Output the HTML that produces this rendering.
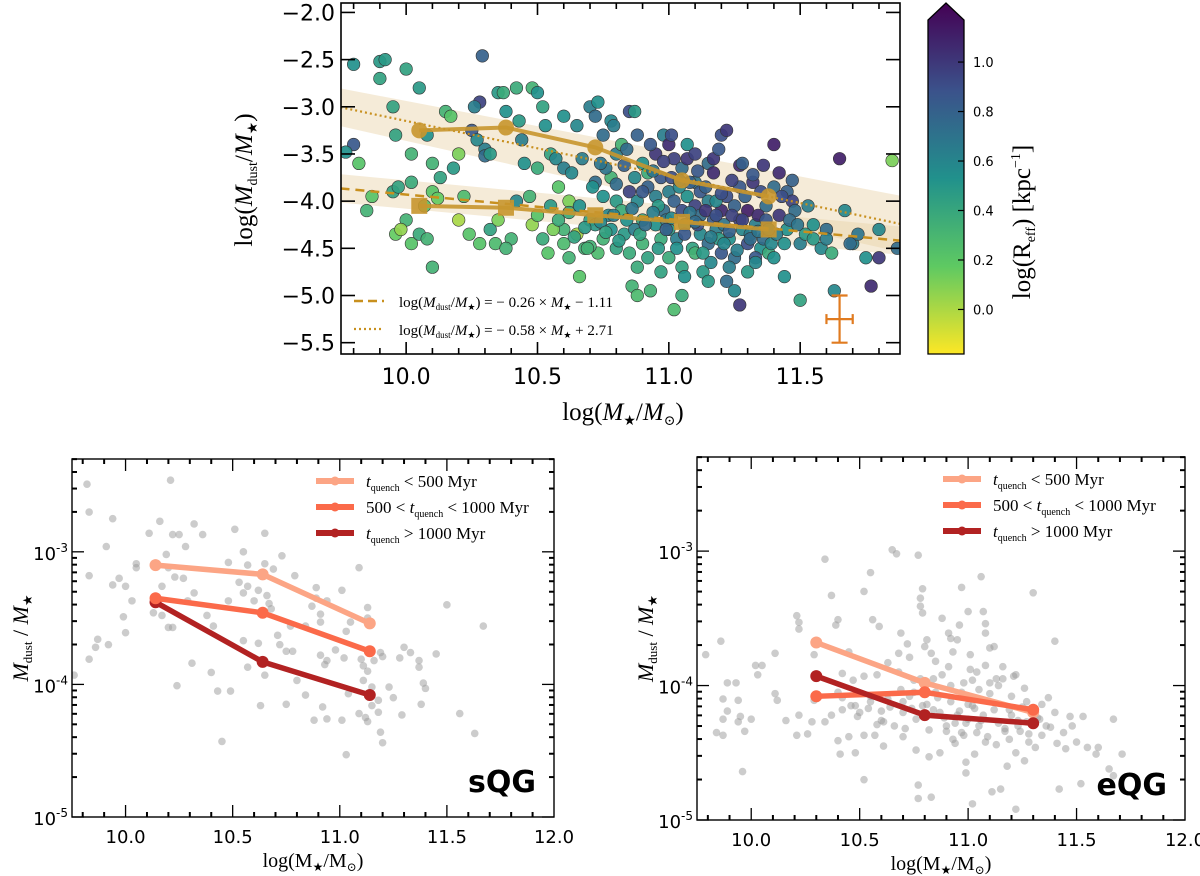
<!DOCTYPE html>
<html><head><meta charset="utf-8">
<style>
html,body{margin:0;padding:0;background:#fff;}
svg{display:block;}
.tk{font-family:"DejaVu Sans","Liberation Sans",sans-serif;fill:#000;}
.sr{font-family:"Liberation Serif","DejaVu Serif",serif;fill:#000;}
</style></head>
<body>
<svg id="fig" xmlns="http://www.w3.org/2000/svg" width="1200" height="876" viewBox="0 0 1200 876">
<defs>
<linearGradient id="vir" x1="0" y1="1" x2="0" y2="0">
<stop offset="0" stop-color="#fde725"/><stop offset="0.25" stop-color="#5ec962"/><stop offset="0.5" stop-color="#21918c"/><stop offset="0.75" stop-color="#3b528b"/><stop offset="1" stop-color="#440154"/>
</linearGradient>
</defs>
</svg>
<script>
// ===== Top panel data =====
const topX=[9.8,9.9,9.92,9.9,10.0,10.05,9.95,9.8,9.77,9.82,9.96,10.08,10.15,10.17,10.1,10.13,10.2,10.25,10.28,10.26,10.3,10.3,10.32,10.35,10.37,10.38,10.42,10.43,10.48,10.5,10.52,10.45,10.5,10.55,10.58,10.57,10.6,10.6,10.55,10.6,10.62,10.29,
9.87,9.85,9.95,10.02,9.97,10.0,9.96,9.98,10.02,10.05,10.08,10.1,10.12,10.1,10.2,10.24,10.28,10.32,10.34,10.35,10.4,10.38,10.42,10.48,10.5,10.52,10.54,10.56,10.6,10.62,10.65,10.66,10.68,10.7,
10.7,10.72,10.73,10.75,10.78,10.8,10.82,10.85,10.87,10.88,10.9,10.92,10.95,10.98,10.72,10.75,10.78,10.8,10.82,10.85,10.88,10.9,10.72,10.75,10.78,10.8,10.83,10.85,10.87,10.9,10.92,10.95,10.97,10.98,10.86,10.88,10.93,10.73,10.77,10.92,10.95,10.97,
11.0,11.02,11.05,11.07,11.1,11.12,11.15,11.17,11.2,11.22,11.0,11.02,11.05,11.07,11.1,11.12,11.15,11.17,11.2,11.22,11.25,11.27,11.3,11.32,11.35,11.37,11.0,11.03,11.06,11.09,11.12,11.15,11.18,11.2,11.23,11.25,11.28,11.3,11.33,11.35,11.0,11.05,11.1,11.13,11.16,11.22,11.25,11.27,11.3,11.05,11.02,11.4,11.42,11.45,11.47,11.42,11.45,11.48,11.5,11.52,11.38,11.4,11.5,11.55,11.58,11.6,11.63,11.65,11.7,11.72,11.75,11.77,11.8,11.8,11.85,11.87,11.62,
11.08,11.11,11.14,11.18,11.21,11.24,11.27,11.29,11.31,11.34,11.36,11.33,11.19,11.04,10.99,10.96,
10.62,10.64,10.66,10.68,10.7,10.74,10.76,10.79,10.81,10.84,10.86,10.89,10.91,10.94,10.96,10.99,11.01,11.03,11.06,11.08,11.1,11.13,11.16,11.18,11.21,11.23,11.26,11.28,11.31,11.34,11.37,11.39,11.41,11.44,11.46,
10.63,10.67,10.71,10.76,10.8,10.83,10.87,10.9,10.94,10.98,11.01,11.04,11.07,11.11,11.14,11.17,11.2,11.24,11.27,11.32,11.36,11.4,11.43,11.47,11.53,
10.02,10.07,10.18,10.22,10.27,10.44,10.47,10.53,10.58,10.65,10.69,10.74,10.79,10.84,10.88,10.93,10.97,11.01,11.06,11.1,11.15,11.19,11.23,11.28,11.33,11.38,11.44,11.49,11.55,11.6,11.67,11.69];
const topY=[-2.55,-2.52,-2.5,-2.7,-2.6,-2.8,-3.0,-3.4,-3.48,-3.6,-3.3,-3.3,-3.05,-3.1,-3.6,-3.75,-3.5,-3.25,-2.95,-3.0,-3.45,-3.52,-3.5,-2.85,-2.85,-3.05,-2.8,-3.15,-2.8,-2.85,-3.0,-3.6,-3.65,-3.5,-3.85,-3.55,-3.1,-3.65,-4.05,-4.3,-4.0,-2.46,
-3.95,-4.1,-3.9,-3.8,-3.85,-4.2,-4.35,-4.3,-4.45,-4.35,-4.4,-3.9,-3.97,-4.7,-4.2,-4.35,-4.45,-4.3,-4.45,-4.2,-4.4,-4.5,-4.0,-4.25,-4.15,-4.4,-4.55,-4.3,-4.45,-4.6,-4.35,-4.8,-4.5,-4.2,
-3.0,-3.1,-2.95,-3.3,-3.15,-3.5,-3.4,-3.05,-3.05,-3.3,-3.6,-3.7,-3.5,-3.3,-3.8,-3.95,-3.75,-4.0,-4.1,-3.9,-4.0,-4.2,-4.25,-4.4,-4.3,-4.5,-4.35,-4.55,-4.3,-4.45,-4.6,-4.25,-4.4,-4.1,-4.9,-5.0,-4.95,-4.55,-4.15,-3.85,-3.95,-3.75,
-3.4,-3.55,-3.65,-3.4,-3.8,-3.9,-3.6,-3.55,-3.3,-3.25,-3.9,-4.0,-4.1,-3.95,-4.05,-4.15,-4.0,-4.2,-4.1,-3.95,-4.05,-4.2,-4.1,-3.8,-3.9,-4.05,-4.3,-4.4,-4.25,-4.5,-4.35,-4.45,-4.3,-4.55,-4.4,-4.6,-4.3,-4.45,-4.25,-4.5,-4.6,-4.7,-4.55,-4.75,-4.65,-4.85,-4.95,-5.1,-4.75,-5.0,-5.15,-3.4,-3.7,-3.9,-4.0,-4.15,-4.3,-4.1,-4.45,-4.35,-4.55,-4.6,-5.05,-4.25,-4.5,-4.3,-4.95,-3.55,-4.45,-4.35,-4.6,-4.9,-4.6,-4.3,-3.57,-4.5,-4.55,
-3.8,-4.25,-4.1,-4.0,-4.25,-4.15,-3.85,-3.95,-4.35,-4.15,-4.4,-4.6,-4.4,-3.85,-4.2,-4.05,
-4.12,-4.38,-4.05,-4.28,-4.48,-4.22,-4.33,-4.15,-4.42,-4.2,-4.08,-4.35,-4.25,-4.12,-4.5,-4.3,-4.18,-4.5,-4.35,-4.12,-4.22,-4.55,-4.38,-4.15,-4.45,-4.32,-4.52,-4.2,-4.4,-4.32,-4.2,-4.45,-4.35,-4.45,-4.2,
-3.7,-3.55,-3.85,-3.65,-3.82,-3.62,-3.75,-3.9,-3.68,-3.58,-3.75,-3.78,-3.55,-3.68,-3.85,-3.7,-3.92,-3.78,-3.62,-3.72,-3.62,-3.85,-3.95,-3.78,-4.05,
-3.5,-4.05,-3.65,-3.95,-3.35,-3.35,-3.95,-3.2,-4.2,-3.2,-4.5,-3.6,-3.2,-3.45,-4.7,-3.4,-4.75,-3.3,-4.8,-3.5,-4.85,-3.45,-4.7,-3.6,-4.65,-4.3,-4.8,-4.25,-4.4,-4.4,-4.1,-4.45];
const topR=[0.5,0.45,0.45,0.4,0.4,0.45,0.4,0.8,0.5,0.2,0.4,0.5,0.3,0.2,0.3,0.4,0.1,0.8,0.9,0.6,0.6,0.7,0.45,0.45,0.35,0.5,0.35,0.45,0.3,0.5,0.4,0.5,0.35,0.4,0.2,0.55,0.5,0.6,0.45,0.3,0.1,0.75,
0.2,0.3,0.4,0.35,0.4,0.3,0.15,0.05,0.2,0.35,0.3,0.2,0.15,0.3,0.0,0.2,0.2,0.4,0.25,0.1,0.3,0.3,0.55,0.05,0.2,0.35,0.2,0.1,0.25,0.3,0.0,0.2,0.3,0.4,
0.6,0.7,0.5,0.7,0.55,0.6,0.3,0.85,0.45,0.75,0.5,0.35,0.95,0.6,0.7,0.5,0.3,0.45,0.35,0.9,0.55,0.4,0.45,0.3,0.5,0.4,0.45,0.35,0.6,0.3,0.4,0.5,0.35,0.7,0.3,0.25,0.3,0.25,0.55,0.75,0.6,0.8,
1.0,0.9,0.7,0.5,0.65,0.8,0.7,0.95,0.85,0.95,0.6,0.75,0.85,0.5,0.9,0.7,0.6,0.8,1.0,0.85,0.75,0.9,1.05,0.95,0.85,0.7,0.45,0.6,0.5,0.4,0.55,0.7,0.6,0.8,0.5,0.7,0.55,0.85,0.6,0.5,0.35,0.4,0.3,0.45,0.55,0.7,0.55,0.95,0.45,0.35,0.25,1.05,1.0,0.75,0.9,0.95,0.5,0.7,0.6,0.45,0.35,0.5,0.4,0.5,0.55,0.7,0.55,1.05,0.6,0.65,0.5,1.0,0.95,0.55,0.1,0.7,0.35,
0.75,0.85,0.95,0.55,0.65,0.9,0.8,0.75,0.6,1.0,0.7,0.8,0.45,0.55,0.65,0.45,
0.35,0.4,0.5,0.45,0.3,0.55,0.4,0.6,0.45,0.5,0.65,0.4,0.7,0.6,0.45,0.75,0.55,0.5,0.8,0.65,0.7,0.45,0.6,0.85,0.55,0.75,0.6,0.9,0.7,0.65,0.8,0.55,0.6,0.5,0.7,
0.55,0.6,0.5,0.65,0.7,0.75,0.55,0.8,0.65,0.9,0.85,0.7,0.95,0.8,0.75,1.0,0.85,0.9,1.0,0.8,0.95,0.7,0.85,0.75,0.6,
0.3,0.2,0.45,0.25,0.55,0.6,0.3,0.5,0.35,0.55,0.3,0.65,0.6,0.7,0.35,0.8,0.4,0.85,0.5,0.9,0.45,0.8,0.6,0.75,0.55,0.6,0.5,0.65,0.45,0.6,0.55,0.7];
const binX=[10.05,10.38,10.72,11.05,11.38];
const binCircleY=[-3.25,-3.22,-3.43,-3.78,-3.95];
const binSquareY=[-4.05,-4.07,-4.15,-4.22,-4.3];
const fitDashed=[-0.26,-1.33];  // slope, intercept as drawn
const fitDotted=[-0.58,2.65];
const errPoint=[11.65,-5.25,0.05,0.25];
const topXTicks=[10.0,10.5,11.0,11.5];
const topYTicks=[-2.0,-2.5,-3.0,-3.5,-4.0,-4.5,-5.0,-5.5];
const cbTicks=[0.0,0.2,0.4,0.6,0.8,1.0];

// ===== Bottom-left (sQG) data =====
const sqgX=[9.82,9.83,9.94,9.91,9.83,9.83,9.76,9.86,9.87,9.92,9.94,9.97,10.0,9.99,10.0,10.03,10.05,10.05,10.11,10.16,10.21,10.22,10.25,10.28,10.32,10.36,10.19,10.2,10.17,10.23,10.27,10.13,10.17,10.2,10.22,10.29,10.32,10.38,10.41,10.31,10.24,10.4,10.43,10.49,10.45,10.48,10.48,10.51,10.55,10.53,10.55,10.57,10.57,10.6,10.62,10.55,10.62,10.57,10.63,10.65,10.65,10.66,10.67,10.68,10.69,10.73,10.71,10.72,10.75,10.65,10.75,10.79,10.77,10.78,10.8,10.84,10.84,10.87,10.89,10.89,10.91,10.91,10.91,10.93,10.94,10.94,10.92,10.88,10.94,10.98,11.01,11.01,11.02,11.03,11.03,11.04,11.05,11.09,11.09,11.1,11.11,11.11,11.12,11.13,11.13,11.13,11.13,11.15,11.15,11.16,11.18,11.18,11.19,11.19,11.2,11.2,11.23,11.25,11.28,11.29,11.3,11.33,11.37,11.37,11.39,11.4,11.38,11.45,11.5,11.56,11.63,11.67];
const sqgLogY=[-2.49,-2.70,-2.75,-2.96,-3.18,-3.81,-3.93,-3.72,-3.66,-3.70,-3.25,-3.2,-3.26,-3.49,-3.61,-3.37,-3.12,-3.09,-2.86,-2.77,-2.46,-2.87,-2.87,-2.96,-2.79,-2.87,-3.02,-3.12,-3.26,-3.19,-3.2,-3.46,-3.48,-3.57,-3.57,-3.37,-3.31,-3.48,-3.56,-3.84,-4.01,-3.91,-4.05,-4.05,-4.43,-3.37,-3.08,-2.83,-3.0,-3.23,-3.31,-3.26,-3.1,-3.37,-3.29,-3.67,-3.69,-3.87,-4.16,-2.86,-3.09,-3.33,-3.39,-3.43,-3.13,-3.03,-3.63,-3.7,-3.75,-3.93,-4.15,-3.18,-3.56,-3.75,-3.97,-3.56,-4.08,-3.41,-3.27,-3.35,-3.47,-3.53,-3.78,-3.85,-3.82,-3.37,-4.17,-4.27,-4.26,-3.74,-4.27,-3.29,-3.8,-4.53,-3.6,-4.07,-3.53,-3.12,-4.22,-3.81,-3.86,-3.97,-4.25,-4.28,-3.5,-3.42,-3.9,-4.02,-4.16,-3.82,-4.12,-4.21,-4.36,-3.76,-3.79,-4.44,-4.02,-4.1,-3.8,-4.23,-3.72,-3.76,-3.82,-3.87,-3.99,-4.03,-4.15,-3.77,-3.4,-4.22,-4.37,-3.56];
const binBX=[10.14,10.64,11.14];
const sqgFast=[-3.10,-3.17,-3.54];
const sqgMid=[-3.35,-3.46,-3.75];
const sqgSlow=[-3.38,-3.83,-4.08];

// ===== Bottom-right (eQG) data =====
const eqgX=[9.79,9.84,9.86,9.87,9.87,9.87,9.89,9.89,9.93,9.94,9.94,9.95,9.96,9.97,10.0,10.02,10.03,10.05,10.11,10.11,10.12,10.16,10.21,10.22,10.22,10.21,10.22,10.26,10.28,10.29,10.29,10.34,10.34,10.37,10.37,10.39,10.4,10.4,10.4,10.41,10.42,10.42,10.42,10.45,10.45,10.46,10.47,10.48,10.49,10.52,10.52,10.52,10.52,10.54,10.55,10.55,10.56,10.57,10.58,10.59,10.59,10.6,10.61,10.61,10.63,10.64,10.65,10.67,10.68,10.69,10.69,10.7,10.7,10.71,10.72,10.73,10.74,10.75,10.75,10.76,10.77,10.77,10.77,10.78,10.78,10.79,10.79,10.8,10.81,10.81,10.82,10.83,10.83,10.84,10.84,10.85,10.86,10.87,10.88,10.89,10.9,10.91,10.91,10.92,10.92,10.93,10.94,10.94,10.95,10.96,10.96,10.97,10.97,10.98,10.99,10.99,10.99,11.0,11.0,11.01,11.01,11.02,11.02,11.03,11.03,11.04,11.05,11.06,11.06,11.07,11.08,11.08,11.08,11.08,11.1,11.1,11.1,11.11,11.12,11.13,11.14,11.15,11.16,11.16,11.17,11.18,11.19,11.19,11.2,11.21,11.22,11.22,11.23,11.24,11.26,11.26,11.27,11.27,11.28,11.3,11.31,11.32,11.34,11.34,11.37,11.38,11.4,11.4,11.41,11.42,11.44,11.45,11.47,11.48,11.5,11.52,11.53,11.55,11.6,11.59,11.65,11.67,11.67,11.71,
10.5,10.55,10.6,10.63,10.66,10.7,10.73,10.76,10.79,10.82,10.85,10.87,10.9,10.92,10.95,10.97,11.0,11.02,11.05,11.07,11.09,11.12,11.14,11.17,11.2,11.23,11.25,11.28,11.33,11.36,10.58,10.68,10.78,10.88,10.98,11.04,11.13,11.22,10.48,10.93];
const eqgLogY=[-3.77,-4.35,-3.67,-4.1,-4.37,-4.25,-4.19,-3.98,-3.98,-4.11,-4.27,-4.23,-4.64,-4.34,-4.25,-3.85,-3.92,-3.85,-3.76,-4.06,-4.11,-4.26,-3.48,-3.53,-3.58,-4.37,-4.22,-4.36,-4.27,-3.77,-4.11,-4.27,-3.06,-4.22,-3.33,-3.55,-3.51,-4.05,-4.41,-4.51,-4.18,-3.91,-4.09,-3.75,-4.38,-4.15,-3.96,-4.5,-4.23,-3.3,-3.93,-4.37,-4.7,-4.17,-4.08,-3.16,-3.51,-4.37,-4.29,-3.56,-4.08,-4.19,-4.45,-4.27,-3.83,-4.16,-2.99,-3.02,-3.76,-3.61,-4.03,-4.12,-4.38,-4.32,-3.69,-3.79,-4.17,-3.96,-4.05,-4.48,-3.03,-4.84,-4.74,-3.35,-3.41,-3.46,-3.28,-3.71,-4.14,-3.66,-4.53,-4.83,-3.76,-4.18,-3.95,-3.82,-4.09,-4.5,-3.5,-4.24,-4.34,-3.86,-3.61,-3.65,-4.0,-3.75,-4.43,-4.28,-3.66,-3.55,-4.19,-4.05,-3.27,-4.37,-4.57,-4.28,-4.65,-3.45,-4.14,-3.77,-3.88,-3.96,-4.88,-4.51,-4.17,-4.35,-4.03,-3.19,-4.26,-3.45,-3.54,-3.61,-3.85,-4.42,-3.98,-3.72,-4.06,-4.79,-3.71,-4.44,-4.0,-4.77,-3.86,-3.95,-4.34,-4.6,-4.18,-4.4,-4.08,-3.93,-4.92,-4.5,-4.26,-4.34,-4.02,-4.56,-4.12,-4.27,-4.42,-3.31,-4.46,-4.24,-4.14,-4.37,-4.09,-4.31,-3.67,-4.2,-4.43,-4.77,-4.35,-4.47,-4.23,-4.3,-4.42,-4.73,-4.23,-4.46,-4.46,-4.51,-4.62,-4.25,-4.67,-4.51,
-4.2,-4.12,-4.26,-4.1,-4.3,-4.2,-4.08,-4.25,-4.15,-4.33,-4.05,-4.2,-4.3,-4.12,-4.22,-4.35,-4.25,-4.15,-4.3,-4.22,-4.38,-4.18,-4.28,-4.32,-4.22,-4.3,-4.16,-4.36,-4.25,-4.3,-3.92,-3.9,-3.95,-3.92,-3.98,-3.9,-3.95,-3.92,-4.15,-4.4];
const binEX=[10.3,10.8,11.3];
const eqgFast=[-3.68,-3.98,-4.2];
const eqgMid=[-4.08,-4.05,-4.18];
const eqgSlow=[-3.93,-4.22,-4.28];

const bXTicks=[10.0,10.5,11.0,11.5,12.0];
const bYDecades=[-5,-4,-3];

// ===== helpers =====
const NS='http://www.w3.org/2000/svg';
const svg=document.getElementById('fig');
function mk(tag,attrs,parent){const e=document.createElementNS(NS,tag);for(const k in attrs)e.setAttribute(k,attrs[k]);(parent||svg).appendChild(e);return e;}
function lin(d0,d1,p0,p1){return v=>p0+(v-d0)*(p1-p0)/(d1-d0);}
function viridis(t){const s=[[0x44,0x01,0x54],[0x3b,0x52,0x8b],[0x21,0x91,0x8c],[0x5e,0xc9,0x62],[0xfd,0xe7,0x25]];
 t=Math.max(0,Math.min(1,t))*4;const i=Math.min(3,Math.floor(t));const f=t-i;const c=s[i].map((v,k)=>Math.round(v+(s[i+1][k]-v)*f));return 'rgb('+c.join(',')+')';}

// ===== Top panel =====
const T={l:341,r:900,t:3,b:354};
const tx=lin(9.752,11.88,T.l,T.r);
const ty=lin(-1.9,-5.62,T.t,T.b);
const gTop=mk('g',{});


const clipT=mk('clipPath',{id:'clipT'});mk('rect',{x:T.l,y:T.t,width:T.r-T.l,height:T.b-T.t},clipT);
const gTopPlot=mk('g',{'clip-path':'url(#clipT)'},gTop);
function band(fit,w0,w1,name){
 const xs=[9.75,11.9];
 const up=xs.map((x,i)=>[tx(x),ty(fit[0]*x+fit[1]+(i?w1:w0))]);
 const dn=xs.map((x,i)=>[tx(x),ty(fit[0]*x+fit[1]-(i?w1:w0))]).reverse();
 const p=mk('polygon',{points:up.concat(dn).map(q=>q.join(',')).join(' '),fill:'#e8d2a8','fill-opacity':'0.45'},gTopPlot);
 
 
}
band(fitDotted,0.2,0.3,'dotted-fit-band');
band(fitDashed,0.15,0.15,'dashed-fit-band');
for(let i=0;i<topX.length;i++){
 const c=mk('circle',{cx:tx(topX[i]),cy:ty(topY[i]),r:6.3,fill:viridis(1-(topR[i]+0.18)/1.35),stroke:'#333','stroke-width':0.6,'fill-opacity':0.92},gTopPlot);
 
 
}
function fitLine(fit,dash,name,w){
 const l=mk('line',{x1:tx(9.75),y1:ty(fit[0]*9.75+fit[1]),x2:tx(11.9),y2:ty(fit[0]*11.9+fit[1]),stroke:'#c8901e','stroke-width':w,'stroke-dasharray':dash},gTopPlot);
 
 
}
fitLine(fitDashed,'9,6','dashed-fit-line',2.5);
fitLine(fitDotted,'2,3','dotted-fit-line',2.2);
const gold='#c8962e';
function binned(ys,marker,name){
 const pl=mk('polyline',{points:binX.map((x,i)=>tx(x)+','+ty(ys[i])).join(' '),fill:'none',stroke:gold,'stroke-width':4,'stroke-opacity':0.9},gTopPlot);
 
 
 binX.forEach((x,i)=>{
  let m;
  if(marker==='c') m=mk('circle',{cx:tx(x),cy:ty(ys[i]),r:8,fill:gold,'fill-opacity':0.9},gTopPlot);
  else m=mk('rect',{x:tx(x)-8,y:ty(ys[i])-8,width:16,height:16,fill:gold,'fill-opacity':0.9},gTopPlot);
  
  
 });
}
binned(binCircleY,'c','binned-median-high');
binned(binSquareY,'s','binned-median-low');
// error bar
const eg=mk('g',{stroke:'#e07b20','stroke-width':2.2},gTop);


const [ex,ey,exe,eye]=errPoint;
mk('line',{x1:tx(ex-exe),y1:ty(ey),x2:tx(ex+exe),y2:ty(ey)},eg);
mk('line',{x1:tx(ex),y1:ty(ey-eye),x2:tx(ex),y2:ty(ey+eye)},eg);
mk('line',{x1:tx(ex)-8,y1:ty(ey-eye),x2:tx(ex)+8,y2:ty(ey-eye)},eg);
mk('line',{x1:tx(ex)-8,y1:ty(ey+eye),x2:tx(ex)+8,y2:ty(ey+eye)},eg);
mk('line',{x1:tx(ex-exe),y1:ty(ey)-5,x2:tx(ex-exe),y2:ty(ey)+5},eg);
mk('line',{x1:tx(ex+exe),y1:ty(ey)-5,x2:tx(ex+exe),y2:ty(ey)+5},eg);
// axes frame + ticks
const fr=mk('rect',{x:T.l,y:T.t,width:T.r-T.l,height:T.b-T.t,fill:'none',stroke:'#000','stroke-width':1.6},gTop);


for(let k=98;k<=118;k++){const v=k/10;const x=tx(v);const major=(k%5===0);const L=major?12:6;
 mk('line',{x1:x,y1:T.b,x2:x,y2:T.b-L,stroke:'#000','stroke-width':1.6},gTop);
 mk('line',{x1:x,y1:T.t,x2:x,y2:T.t+L,stroke:'#000','stroke-width':1.6},gTop);}
topXTicks.forEach(v=>{const t=mk('text',{x:tx(v),y:384,'text-anchor':'middle','font-size':22,class:'tk'},gTop);t.textContent=v.toFixed(1);
 
 });
topYTicks.forEach(v=>{const y=ty(v);
 mk('line',{x1:T.l,y1:y,x2:T.l+14,y2:y,stroke:'#000','stroke-width':1.6},gTop);
 mk('line',{x1:T.r,y1:y,x2:T.r-14,y2:y,stroke:'#000','stroke-width':1.6},gTop);
 const t=mk('text',{x:T.l-6,y:y+8,'text-anchor':'end','font-size':22,class:'tk'},gTop);t.textContent=(v).toFixed(1).replace('-','\u2212');
 
 });
// labels
let t=mk('text',{x:623,y:420,'text-anchor':'middle','font-size':25,class:'sr'},gTop);
t.innerHTML='log(<tspan font-style="italic">M</tspan><tspan font-size="14" dy="5">★</tspan><tspan dy="-5">/</tspan><tspan font-style="italic">M</tspan><tspan font-size="14" dy="5">⊙</tspan><tspan dy="-5">)</tspan>';


t=mk('text',{x:0,y:0,'text-anchor':'middle','font-size':25,class:'sr',transform:'translate(252,180) rotate(-90)'},gTop);
t.innerHTML='log(<tspan font-style="italic">M</tspan><tspan font-size="14" dy="5">dust</tspan><tspan dy="-5">/</tspan><tspan font-style="italic">M</tspan><tspan font-size="14" dy="5">★</tspan><tspan dy="-5">)</tspan>';


// legend
const lg=mk('g',{},gTop);


mk('line',{x1:354,y1:301,x2:384,y2:301,stroke:'#c8901e','stroke-width':2.5,'stroke-dasharray':'9,5'},lg);
mk('line',{x1:354,y1:329,x2:384,y2:329,stroke:'#c8901e','stroke-width':2.2,'stroke-dasharray':'2,3'},lg);
t=mk('text',{x:399,y:307,'font-size':15,class:'sr'},lg);
t.innerHTML='log(<tspan font-style="italic">M</tspan><tspan font-size="9" dy="3">dust</tspan><tspan dy="-3">/</tspan><tspan font-style="italic">M</tspan><tspan font-size="9" dy="3">★</tspan><tspan dy="-3">) = − 0.26 × </tspan><tspan font-style="italic">M</tspan><tspan font-size="9" dy="3">★</tspan><tspan dy="-3"> − 1.11</tspan>';


t=mk('text',{x:399,y:335,'font-size':15,class:'sr'},lg);
t.innerHTML='log(<tspan font-style="italic">M</tspan><tspan font-size="9" dy="3">dust</tspan><tspan dy="-3">/</tspan><tspan font-style="italic">M</tspan><tspan font-size="9" dy="3">★</tspan><tspan dy="-3">) = − 0.58 × </tspan><tspan font-style="italic">M</tspan><tspan font-size="9" dy="3">★</tspan><tspan dy="-3"> + 2.71</tspan>';


// colorbar
const cb=mk('g',{},svg);


const cy=lin(-0.18,1.17,354,20);
mk('path',{d:'M928,354 L928,20 L946,3 L964,20 L964,354 Z',fill:'url(#vir)',stroke:'#000','stroke-width':1.3},cb);
cbTicks.forEach(v=>{const y=cy(v);mk('line',{x1:964,y1:y,x2:958,y2:y,stroke:'#000','stroke-width':1.2},cb);
 const tt=mk('text',{x:973,y:y+5,'font-size':13,class:'tk'},cb);tt.textContent=v.toFixed(1);
 
 });
t=mk('text',{x:0,y:0,'text-anchor':'middle','font-size':25,class:'sr',transform:'translate(1030,222) rotate(-90)'},cb);
t.innerHTML='log(R<tspan font-size="14" dy="5">eff</tspan><tspan dy="-5">) [kpc</tspan><tspan font-size="14" dy="-10">−1</tspan><tspan dy="10">]</tspan>';



// ===== bottom panels =====
function bottomPanel(P,xsArr,ysArr,bx,fast,mid,slow,label,name,lgx){
 const g=mk('g',{});
 
 
 const X=lin(9.75,12.0,P.l,P.r);
 const Y=lin(-5,-2.3,P.b,P.t);
 const cid='clip'+name;const cp=mk('clipPath',{id:cid});mk('rect',{x:P.l,y:P.t,width:P.r-P.l,height:P.b-P.t},cp);
 const gp=mk('g',{'clip-path':'url(#'+cid+')'},g);
 for(let i=0;i<xsArr.length;i++){const c=mk('circle',{cx:X(xsArr[i]),cy:Y(ysArr[i]),r:3.8,fill:'#9a9a9a','fill-opacity':0.5},gp);
  
  }
 const series=[[slow,'#b22222','slow-quench-line'],[mid,'#fb6a4a','mid-quench-line'],[fast,'#fca585','fast-quench-line']];
 if(name==='eqg-panel') series.reverse();
 series.forEach(([ys,col,nm])=>{
  const pl=mk('polyline',{points:bx.map((x,i)=>X(x)+','+Y(ys[i])).join(' '),fill:'none',stroke:col,'stroke-width':5.5,'stroke-linejoin':'round'},gp);
  
  
  bx.forEach((x,i)=>{const m=mk('circle',{cx:X(x),cy:Y(ys[i]),r:6,fill:col},gp);
   
   });
 });
 mk('rect',{x:P.l,y:P.t,width:P.r-P.l,height:P.b-P.t,fill:'none',stroke:'#000','stroke-width':1.4},g);
 for(let k=98;k<=119;k++){const v=k/10;const x=X(v);const major=(k%5===0);const L=major?12:5;
  mk('line',{x1:x,y1:P.b,x2:x,y2:P.b-L,stroke:'#000','stroke-width':major?1.3:2},g);
  mk('line',{x1:x,y1:P.t,x2:x,y2:P.t+L,stroke:'#000','stroke-width':major?1.3:2},g);}
 bXTicks.forEach(v=>{const tt=mk('text',{x:X(v),y:P.b+26,'text-anchor':'middle','font-size':18,class:'tk'},g);tt.textContent=v.toFixed(1);
  
  });
 for(let d=-5;d<-2;d++){for(let k=1;k<10;k++){const lv=d+Math.log10(k);if(lv>-2.3)break;const y=Y(lv);const L=k===1?12:5;
  mk('line',{x1:P.l,y1:y,x2:P.l+L,y2:y,stroke:'#000','stroke-width':k===1?1.3:2},g);
  mk('line',{x1:P.r,y1:y,x2:P.r-L,y2:y,stroke:'#000','stroke-width':k===1?1.3:2},g);}}
 bYDecades.forEach(d=>{const tt=mk('text',{x:P.l-4,y:Y(d)+8,'text-anchor':'end','font-size':18,class:'tk'},g);
  tt.innerHTML='10<tspan font-size="12" dy="-8">'+d+'</tspan>';
  
  });
 let tt=mk('text',{x:(P.l+P.r)/2,y:P.b+50,'text-anchor':'middle','font-size':20,class:'sr'},g);
 tt.innerHTML='log(M<tspan font-size="12" dy="4">★</tspan><tspan dy="-4">/M</tspan><tspan font-size="12" dy="4">⊙</tspan><tspan dy="-4">)</tspan>';
 
 
 tt=mk('text',{x:0,y:0,'text-anchor':'middle','font-size':22,class:'sr',transform:'translate('+(P.l-44)+','+((P.t+P.b)/2)+') rotate(-90)'},g);
 tt.innerHTML='<tspan font-style="italic">M</tspan><tspan font-size="13" dy="4">dust</tspan><tspan dy="-4"> / </tspan><tspan font-style="italic">M</tspan><tspan font-size="13" dy="4">★</tspan>';
 
 
 tt=mk('text',{x:P.r-18,y:P.b-25,'text-anchor':'end','font-size':30,'font-weight':'bold',class:'tk'},g);tt.textContent=label;
 
 
 const leg=[['#fca585','<tspan font-style="italic">t</tspan><tspan font-size="10" dy="4">quench</tspan><tspan dy="-4"> &lt; 500 Myr</tspan>','legend-fast'],
  ['#fb6a4a','500 &lt; <tspan font-style="italic">t</tspan><tspan font-size="10" dy="4">quench</tspan><tspan dy="-4"> &lt; 1000 Myr</tspan>','legend-mid'],
  ['#b22222','<tspan font-style="italic">t</tspan><tspan font-size="10" dy="4">quench</tspan><tspan dy="-4"> &gt; 1000 Myr</tspan>','legend-slow']];
 leg.forEach((e,i)=>{const y=P.t+22+i*26;
  const eg=mk('g',{},g);
  
  
  mk('line',{x1:lgx,y1:y,x2:lgx+38,y2:y,stroke:e[0],'stroke-width':6},eg);
  mk('circle',{cx:lgx+19,cy:y,r:4.5,fill:e[0]},eg);
  const te=mk('text',{x:lgx+50,y:y+6,'font-size':17,class:'sr'},eg);te.innerHTML=e[1];});
}
bottomPanel({l:72,r:554,t:459,b:817},sqgX,sqgLogY,binBX,sqgFast,sqgMid,sqgSlow,'sQG','sqg-panel',316);
bottomPanel({l:697,r:1185,t:457,b:820},eqgX,eqgLogY,binEX,eqgFast,eqgMid,eqgSlow,'eQG','eqg-panel',943);
</script>
</body></html>
